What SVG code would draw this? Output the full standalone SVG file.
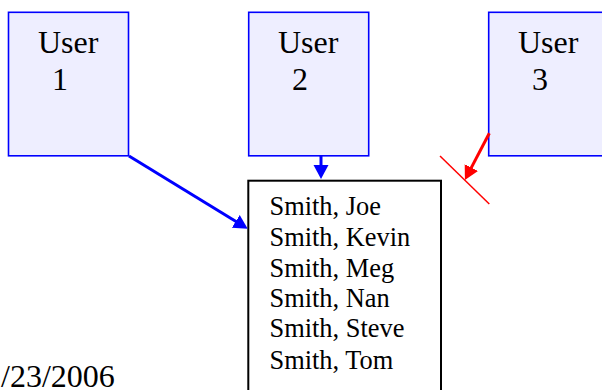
<svg xmlns="http://www.w3.org/2000/svg" width="602" height="390" viewBox="0 0 602 390">
<style>
.user{fill:#EEEEFF;stroke:#0000FF;stroke-width:1.6}
.big{font-size:32px}
.small{font-size:26.4px}
.blue{stroke:#0000FF;stroke-width:3;fill:none}
.red{stroke:#FF0000;stroke-width:3;fill:none}
</style>
<defs>
<marker id="ab" markerUnits="userSpaceOnUse" markerWidth="16" markerHeight="16" refX="6" refY="7.5" orient="auto">
<path d="M0,0 L14,7.5 L0,15 z" fill="#0000FF"/>
</marker>
<marker id="ar" markerUnits="userSpaceOnUse" markerWidth="16" markerHeight="16" refX="6" refY="7.5" orient="auto">
<path d="M0,0 L14,7.5 L0,15 z" fill="#FF0000"/>
</marker>
</defs>
<rect width="602" height="390" fill="#fff"/>
<g font-family="Liberation Serif, Tinos, Times New Roman, Times, DejaVu Serif, serif" fill="#000">
<g id="user1">
<rect class="user" x="8.5" y="12.3" width="120" height="143.5"/>
<text class="big" x="38" y="53">User</text>
<text class="big" x="52" y="90">1</text>
</g>
<g id="user2">
<rect class="user" x="248.7" y="12.3" width="120" height="143.5"/>
<text class="big" x="278" y="53">User</text>
<text class="big" x="292" y="90">2</text>
</g>
<g id="user3">
<rect class="user" x="488.7" y="12.3" width="120" height="143.5"/>
<text class="big" x="518" y="53">User</text>
<text class="big" x="532" y="90">3</text>
</g>
<g id="list">
<rect x="248.3" y="180.7" width="192.7" height="220" fill="#fff" stroke="#000" stroke-width="2"/>
<text class="small" x="269.5" y="215.3">Smith, Joe</text>
<text class="small" x="269.5" y="246">Smith, Kevin</text>
<text class="small" x="269.5" y="276.7">Smith, Meg</text>
<text class="small" x="269.5" y="306.8">Smith, Nan</text>
<text class="small" x="269.5" y="337.3">Smith, Steve</text>
<text class="small" x="269.5" y="368.7">Smith, Tom</text>
</g>
<g id="connectors">
<line class="blue" x1="129" y1="156" x2="240.9" y2="224.5" marker-end="url(#ab)"/>
<line class="blue" x1="321" y1="156" x2="321" y2="171" marker-end="url(#ab)"/>
<line class="red" x1="489.3" y1="133.3" x2="468.6" y2="172.9" marker-end="url(#ar)"/>
<line x1="440" y1="156" x2="489.3" y2="204" stroke="#FF0000" stroke-width="1.5"/>
</g>
<g id="date">
<text class="big" x="1" y="387">/23/2006</text>
</g>
</g>
</svg>
